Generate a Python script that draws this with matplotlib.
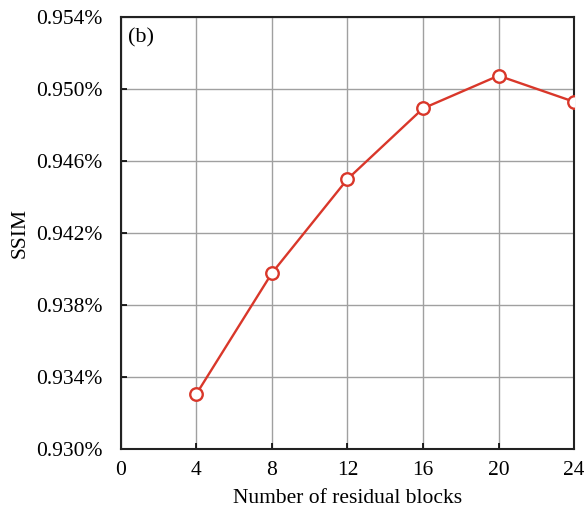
import matplotlib
matplotlib.use("Agg")
import matplotlib.pyplot as plt
from matplotlib.ticker import FuncFormatter

# data
blocks = [4, 8, 12, 16, 20, 24]
ssim = [0.93306, 0.93978, 0.94500, 0.94893, 0.95075, 0.94930]
y_ticks = [0.930, 0.934, 0.938, 0.942, 0.946, 0.950, 0.954]
x_ticks = [0, 4, 8, 12, 16, 20, 24]

plt.rcParams["font.family"] = ["Liberation Serif", "DejaVu Serif"]
plt.rcParams["font.size"] = 15

fig = plt.figure(figsize=(5.84, 5.14), dpi=100)
ax = fig.add_axes([0.207, 0.1265, 0.776, 0.840])

ax.plot(blocks, ssim, color="#d9372a", lw=1.7, marker="o", ms=9,
        mfc="white", mec="#d9372a", mew=1.7, zorder=3, clip_on=True)

ax.set_xlim(0, 24)
ax.set_ylim(0.930, 0.954)
ax.set_xticks(x_ticks)
ax.set_yticks(y_ticks)
ax.yaxis.set_major_formatter(FuncFormatter(lambda v, p: f"{v:.3f}%"))
ax.grid(True, color="#a0a0a0", lw=1.0)
ax.set_axisbelow(True)
ax.tick_params(direction="in", length=4, width=1.2, labelsize=15.5)
ax.tick_params(axis="y", pad=13)
ax.tick_params(axis="x", pad=9)
for s in ax.spines.values():
    s.set_linewidth(1.5)
    s.set_color("#222222")

ax.set_xlabel("Number of residual blocks", fontsize=15.5, labelpad=6)
ax.set_ylabel("SSIM", fontsize=15.5, labelpad=5)
ax.text(0.015, 0.975, "(b)", transform=ax.transAxes, ha="left", va="top", fontsize=16)

fig.savefig("out.png", dpi=100)
